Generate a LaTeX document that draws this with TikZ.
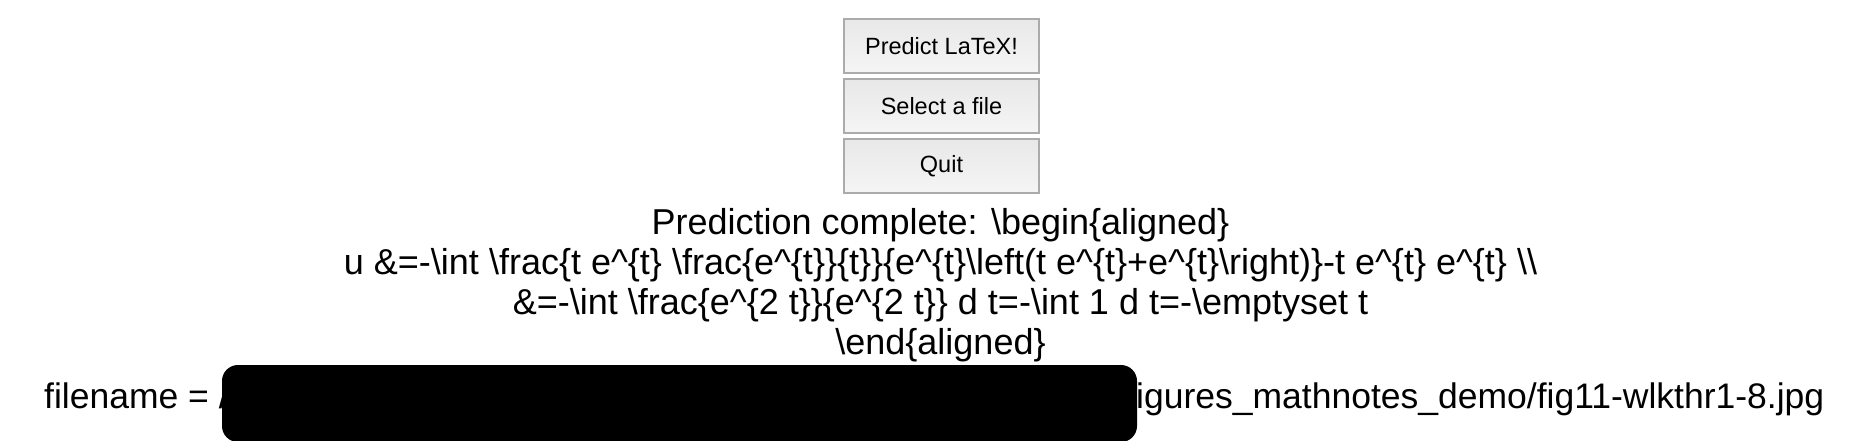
\documentclass[tikz,border=0pt]{standalone}
\usepackage{fontspec}
\setmainfont{Liberation Sans}
\newcommand\myb{\textbackslash}
\newcommand\myc{\textasciicircum}
\begin{document}
\begin{tikzpicture}[x=1pt,y=-1pt,
  btn/.style={draw=black!33, line width=2pt, top color=black!9, bottom color=black!4,
    minimum width=195pt, minimum height=54pt, inner sep=0pt,
    font=\fontsize{23.5}{27}\selectfont},
  txt/.style={anchor=base, inner sep=0pt, font=\fontsize{36}{40}\selectfont},
  txtw/.style={anchor=base west, inner sep=0pt, font=\fontsize{35.5}{40}\selectfont}]
\useasboundingbox (0,0) rectangle (1854,440);
\fill[white] (0,0) rectangle (1854,440);
% buttons
\node[btn] (predict) at (941.5,46) {Predict LaTeX!};
\node[btn] (select) at (941.5,106) {Select a file};
\node[btn] (quit) at (941.5,166) {Quit};
% prediction text
\node[txt] (l1) at (940.5,234.5) {Prediction complete: \myb begin\{aligned\}};
\node[txt] (l2) at (940.5,274.5) {u \&=-\myb int \myb frac\{t e\myc\{t\} \myb frac\{e\myc\{t\}\}\{t\}\}\{e\myc\{t\}\myb left(t e\myc\{t\}+e\myc\{t\}\myb right)\}-t e\myc\{t\} e\myc\{t\} \myb\myb};
\node[txt] (l3) at (940.5,314) {\&=-\myb int \myb frac\{e\myc\{2 t\}\}\{e\myc\{2 t\}\} d t=-\myb int 1 d t=-\myb emptyset t};
\node[txt] (l4) at (940.5,354) {\myb end\{aligned\}};
% filename line
\node[txtw] (fn) at (44,408.5) {filename = /};
\node[txtw] (path) at (1136,408.5) {igures\_mathnotes\_demo/fig11-wlkthr1-8.jpg};
\fill[black, rounded corners=16pt] (222,365) rectangle (1137,442);
\end{tikzpicture}
\end{document}
